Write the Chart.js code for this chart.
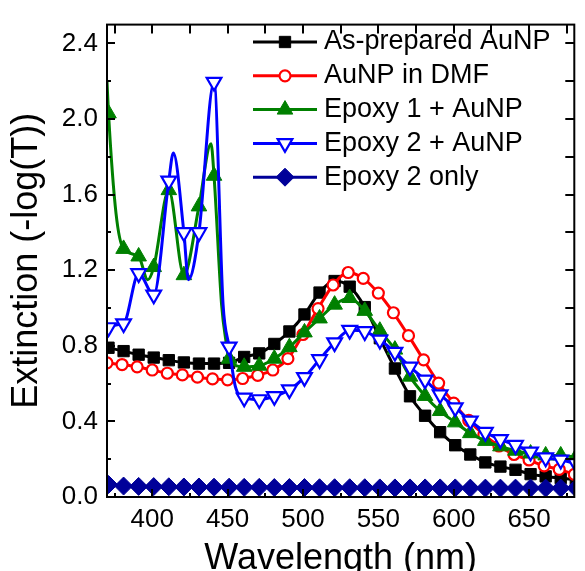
<!DOCTYPE html>
<html>
<head>
<meta charset="utf-8">
<script src="https://cdn.jsdelivr.net/npm/chart.js@4.4.0/dist/chart.umd.min.js"></script>
<style>
  html, body { margin: 0; padding: 0; background: #fff; }
  #wrap { width: 585px; height: 571px; }
</style>
</head>
<body>
<div id="wrap"><canvas id="chart" width="585" height="571"></canvas></div>
<script>
// marker positions (nm)
const wavelengths = [371, 381, 391, 401, 411, 421, 431, 441, 451, 461, 471, 481, 491, 501, 511, 521,
  531, 541, 551, 561, 571, 581, 591, 601, 611, 621, 631, 641, 651, 661, 671, 681];
const dmfWavelengths = [370, 380, 390, 400, 410, 420, 430, 440, 450, 460, 470, 480, 490, 500, 510, 520,
  530, 540, 550, 560, 570, 580, 590, 600, 610, 620, 630, 640, 650, 660, 670, 680];

const asPrepared = [0.79, 0.772, 0.753, 0.738, 0.724, 0.712, 0.706, 0.706, 0.71, 0.741, 0.76, 0.81,
  0.876, 0.966, 1.082, 1.143, 1.113, 1.005, 0.84, 0.68, 0.533, 0.43, 0.343, 0.274, 0.225, 0.183,
  0.161, 0.144, 0.121, 0.109, 0.10, 0.09];
const inDmf = [0.71, 0.701, 0.689, 0.672, 0.655, 0.646, 0.634, 0.625, 0.62, 0.627, 0.644, 0.672,
  0.732, 0.86, 0.997, 1.122, 1.188, 1.157, 1.079, 0.975, 0.854, 0.726, 0.603, 0.497, 0.405, 0.33,
  0.27, 0.225, 0.196, 0.165, 0.146, 0.12];
const epoxy1 = [2.03, 1.313, 1.273, 1.217, 1.624, 1.174, 1.538, 1.70, 0.732, 0.689, 0.695, 0.732,
  0.793, 0.871, 0.945, 1.018, 1.053, 0.985, 0.88, 0.78, 0.637, 0.535, 0.455, 0.395, 0.338, 0.297,
  0.268, 0.245, 0.23, 0.22, 0.22, 0.21];
const epoxy2 = [0.897, 0.918, 1.183, 1.07, 1.673, 1.40, 1.40, 2.196, 0.795, 0.525, 0.516, 0.533,
  0.568, 0.633, 0.728, 0.817, 0.883, 0.876, 0.831, 0.767, 0.689, 0.62, 0.542, 0.473, 0.403, 0.343,
  0.305, 0.274, 0.239, 0.208, 0.196, 0.178];
const epoxy2Only = [0.066, 0.058, 0.056, 0.055, 0.054, 0.053, 0.053, 0.052, 0.052, 0.051, 0.051, 0.05,
  0.05, 0.05, 0.049, 0.049, 0.049, 0.049, 0.048, 0.048, 0.048, 0.048, 0.048, 0.048, 0.047, 0.047,
  0.047, 0.047, 0.047, 0.047, 0.047, 0.047];

// curve points between markers (line only, no marker)
const epoxy1CurveX = [370, 376, 397, 439, 446, 449];
const epoxy1CurveY = [2.2, 1.50, 1.15, 1.87, 1.02, 0.82];
const epoxy2CurveX = [370, 414, 424, 447, 455];
const epoxy2CurveY = [0.85, 1.82, 1.15, 1.02, 0.59];

const labels = ["As-prepared AuNP", "AuNP in DMF", "Epoxy 1 + AuNP", "Epoxy 2 + AuNP", "Epoxy 2 only"];
const xTitle = "Wavelength (nm)";
const yTitle = "Extinction (-log(T))";

const FONT = "'Liberation Sans', Arial, sans-serif";
Chart.defaults.font.family = FONT;
Chart.defaults.color = "#000";

function points(xs, ys, extraX = [], extraY = []) {
  const pts = xs.map((x, i) => ({ x: x, y: ys[i], m: true }));
  extraX.forEach((x, i) => pts.push({ x: x, y: extraY[i], m: false }));
  return pts.sort((a, b) => a.x - b.x);
}

function series(label, data, color, st) {
  return {
    label: label,
    data: data,
    borderColor: color,
    borderWidth: 3,
    cubicInterpolationMode: "monotone",
    pointStyle: st.shape,
    pointRotation: st.rotation || 0,
    pointRadius: (c) => (c.raw && c.raw.m ? st.radius : 0),
    pointHoverRadius: 0,
    pointBackgroundColor: st.fill,
    pointBorderColor: color,
    pointBorderWidth: st.border,
    markerRadius: st.radius,
    order: st.order,
  };
}

const datasets = [
  series(labels[0], points(wavelengths, asPrepared), "#000000",
    { shape: "rect", radius: 8, fill: "#000000", border: 1, order: 5 }),
  series(labels[1], points(dmfWavelengths, inDmf), "#ff0000",
    { shape: "circle", radius: 5.5, fill: "#ffffff", border: 2.2, order: 4 }),
  series(labels[2], points(wavelengths, epoxy1, epoxy1CurveX, epoxy1CurveY), "#008000",
    { shape: "triangle", radius: 9, fill: "#008000", border: 1, order: 3 }),
  series(labels[3], points(wavelengths, epoxy2, epoxy2CurveX, epoxy2CurveY), "#0000ff",
    { shape: "triangle", rotation: 180, radius: 8.5, fill: "#ffffff", border: 2.2, order: 2 }),
  series(labels[4], points(wavelengths, epoxy2Only), "#000099",
    { shape: "rectRot", radius: 9, fill: "#000099", border: 1, order: 1 }),
];

// box + inward ticks like the origin plot
const frameTicks = {
  id: "frameTicks",
  afterDatasetsDraw(chart) {
    const { ctx, chartArea: a, scales } = chart;
    const x = scales.x, y = scales.y;
    ctx.save();
    ctx.strokeStyle = "#000";
    ctx.lineWidth = 2;
    ctx.beginPath();
    for (let v = 375; v <= 675; v += 25) {
      const px = Math.round(x.getPixelForValue(v));
      const len = v % 50 === 0 ? 8 : 4;
      ctx.moveTo(px, a.bottom); ctx.lineTo(px, a.bottom - len);
      ctx.moveTo(px, a.top); ctx.lineTo(px, a.top + 9);
    }
    for (let k = 1; k <= 12; k++) {
      const py = Math.round(y.getPixelForValue(k * 0.2));
      const len = k % 2 === 0 ? 8 : 4;
      ctx.moveTo(a.left, py); ctx.lineTo(a.left + len, py);
      ctx.moveTo(a.right, py); ctx.lineTo(a.right - 9, py);
    }
    ctx.stroke();
    ctx.strokeRect(a.left, a.top, a.right - a.left, a.bottom - a.top);
    ctx.restore();
  },
};

const insideLegend = {
  id: "insideLegend",
  afterDraw(chart) {
    const ctx = chart.ctx;
    ctx.save();
    chart.data.datasets.forEach((ds, i) => {
      const yy = 42 + i * 33.8;
      ctx.strokeStyle = ds.borderColor;
      ctx.lineWidth = 3;
      ctx.beginPath();
      ctx.moveTo(253, yy); ctx.lineTo(317, yy);
      ctx.stroke();
      ctx.fillStyle = ds.pointBackgroundColor;
      ctx.strokeStyle = ds.pointBorderColor;
      ctx.lineWidth = ds.pointBorderWidth;
      Chart.helpers.drawPoint(ctx, {
        pointStyle: ds.pointStyle,
        rotation: ds.pointRotation,
        radius: ds.markerRadius,
        borderWidth: ds.pointBorderWidth,
      }, 285, yy);
      ctx.fillStyle = "#000";
      ctx.font = "27px " + FONT;
      ctx.textBaseline = "middle";
      ctx.textAlign = "left";
      ctx.fillText(ds.label, 324, yy);
    });
    ctx.restore();
  },
};

new Chart(document.getElementById("chart"), {
  type: "line",
  data: { datasets: datasets },
  options: {
    responsive: false,
    animation: false,
    devicePixelRatio: 1,
    events: [],
    layout: { padding: { top: 15, right: 1, left: 0, bottom: 0 } },
    plugins: { legend: { display: false }, tooltip: { enabled: false } },
    scales: {
      x: {
        type: "linear",
        min: 370,
        max: 680,
        grid: { display: false, drawTicks: false },
        border: { display: false },
        ticks: { stepSize: 50, includeBounds: false, autoSkip: false, maxRotation: 0, padding: 7,
          font: { size: 26 } },
        title: { display: true, text: xTitle, font: { size: 36, lineHeight: 1 }, padding: { top: 0, bottom: -6 } },
        afterFit: (s) => { s.height = 74; },
      },
      y: {
        min: 0,
        max: 2.5,
        grid: { display: false, drawTicks: false },
        border: { display: false },
        ticks: { stepSize: 0.4, includeBounds: false, padding: 9, font: { size: 26 },
          callback: (v) => v.toFixed(1) },
        title: { display: true, text: yTitle, font: { size: 36, lineHeight: 1 }, padding: { top: 9, bottom: 0 } },
        afterFit: (s) => { s.width = 107; },
      },
    },
  },
  plugins: [frameTicks, insideLegend],
});
</script>
</body>
</html>
